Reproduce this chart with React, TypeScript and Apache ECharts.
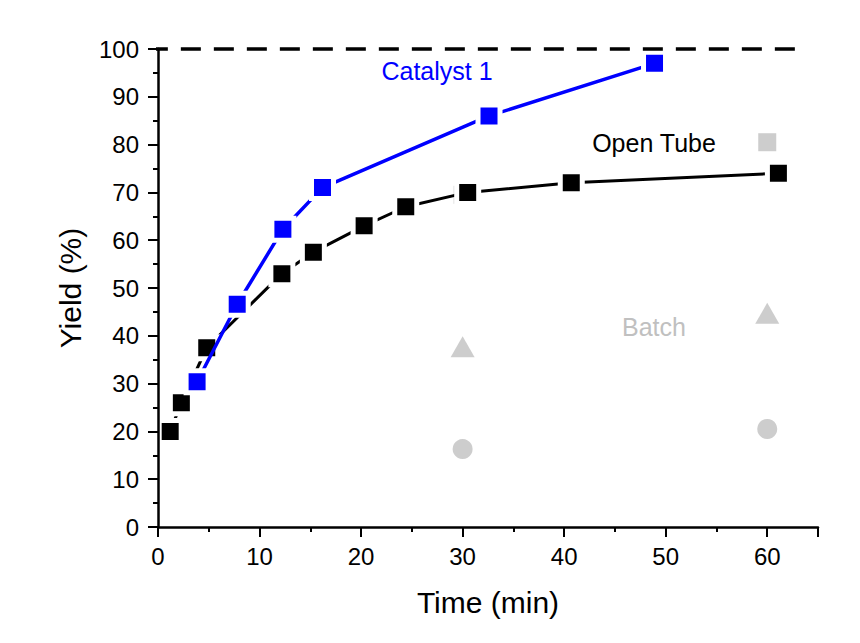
import React, { useEffect, useRef } from "react";
import * as echarts from "echarts";

const openTubeTime = [1.2, 2.3, 4.8, 12.2, 15.3, 20.3, 24.4, 30.5, 40.7, 61.1];
const openTubeYield = [20, 26, 37.5, 53, 57.5, 63, 67, 70, 72, 74];
const catalystTime = [3.85, 7.8, 12.3, 16.2, 32.6, 48.9];
const catalystYield = [30.4, 46.6, 62.3, 71, 86, 97];
const batchSquareTime = [30, 60];
const batchSquareYield = [69.5, 80.5];
const batchTriangleTime = [30, 60];
const batchTriangleYield = [37.7, 44.7];
const batchCircleTime = [30, 60];
const batchCircleYield = [16.3, 20.5];
const limitTime = [-1, 63.5];
const limitYield = [100, 100];

const zip = (xs: number[], ys: number[]) => xs.map((x, i) => [x, ys[i]]);

const FONT = "'Liberation Sans', Arial, sans-serif";
const GRAY = "#c0c0c0";

export default function App() {
  const ref = useRef<HTMLDivElement>(null);
  useEffect(() => {
    document.body.style.margin = "0";
    const chart = echarts.init(ref.current!, null, { renderer: "svg" });
    chart.setOption({
      animation: false,
      backgroundColor: "#ffffff",
      grid: { left: 158, right: 42, top: 49, bottom: 116 },
      xAxis: {
        type: "value",
        min: 0,
        max: 65,
        interval: 10,
        z: 10,
        name: "Time (min)",
        nameLocation: "middle",
        nameGap: 60,
        nameTextStyle: { fontFamily: FONT, fontSize: 30, color: "#000" },
        axisLine: { show: true, onZero: false, lineStyle: { color: "#000", width: 2.5 } },
        axisTick: { show: true, length: 10, lineStyle: { color: "#000", width: 2 } },
        minorTick: { show: true, splitNumber: 2, length: 5, lineStyle: { color: "#000", width: 2 } },
        axisLabel: { fontFamily: FONT, fontSize: 24, color: "#000", margin: 17, showMaxLabel: false },
        splitLine: { show: false },
      },
      yAxis: {
        type: "value",
        min: 0,
        max: 100,
        interval: 10,
        z: 10,
        name: "Yield (%)",
        nameLocation: "middle",
        nameGap: 73,
        nameTextStyle: { fontFamily: FONT, fontSize: 30, color: "#000" },
        axisLine: { show: true, onZero: false, lineStyle: { color: "#000", width: 2.5 } },
        axisTick: { show: true, length: 10, lineStyle: { color: "#000", width: 2 } },
        minorTick: { show: true, splitNumber: 2, length: 5, lineStyle: { color: "#000", width: 2 } },
        axisLabel: { fontFamily: FONT, fontSize: 24, color: "#000", margin: 19 },
        splitLine: { show: false },
      },
      series: [
        {
          name: "Batch square",
          type: "scatter",
          data: zip(batchSquareTime, batchSquareYield),
          symbol: "rect",
          symbolSize: 18,
          itemStyle: { color: GRAY },
          z: 1,
        },
        {
          name: "Batch triangle",
          type: "scatter",
          data: zip(batchTriangleTime, batchTriangleYield),
          symbol: "triangle",
          symbolSize: [24, 21],
          itemStyle: { color: GRAY },
          z: 1,
        },
        {
          name: "Batch circle",
          type: "scatter",
          data: zip(batchCircleTime, batchCircleYield),
          symbol: "circle",
          symbolSize: 20,
          itemStyle: { color: GRAY },
          z: 1,
        },
        {
          name: "Open Tube",
          type: "line",
          data: zip(openTubeTime, openTubeYield),
          symbol: "rect",
          symbolSize: 22,
          showAllSymbol: true,
          lineStyle: { color: "#000", width: 3 },
          itemStyle: { color: "#000", borderColor: "#fff", borderWidth: 5 },
          z: 2,
        },
        {
          name: "Catalyst 1",
          type: "line",
          data: zip(catalystTime, catalystYield),
          symbol: "rect",
          symbolSize: 22,
          showAllSymbol: true,
          lineStyle: { color: "#0000ff", width: 3.5 },
          itemStyle: { color: "#0000ff", borderColor: "#fff", borderWidth: 5 },
          z: 3,
        },
        {
          name: "Limit",
          type: "line",
          data: zip(limitTime, limitYield),
          symbol: "none",
          clip: false,
          lineStyle: { color: "#000", width: 3.5, type: [20, 13] },
          z: 4,
        },
      ],
      graphic: [
        {
          type: "text",
          x: 437,
          y: 71,
          style: {
            text: "Catalyst 1",
            fill: "#0000ff",
            font: `25px ${FONT}`,
            align: "center",
            verticalAlign: "middle",
          },
        },
        {
          type: "text",
          x: 654,
          y: 143,
          style: {
            text: "Open Tube",
            fill: "#000",
            font: `25px ${FONT}`,
            align: "center",
            verticalAlign: "middle",
          },
        },
        {
          type: "text",
          x: 654,
          y: 327,
          style: {
            text: "Batch",
            fill: GRAY,
            font: `25px ${FONT}`,
            align: "center",
            verticalAlign: "middle",
          },
        },
      ],
    });
    return () => chart.dispose();
  }, []);
  return <div ref={ref} style={{ width: 860, height: 643 }} />;
}
